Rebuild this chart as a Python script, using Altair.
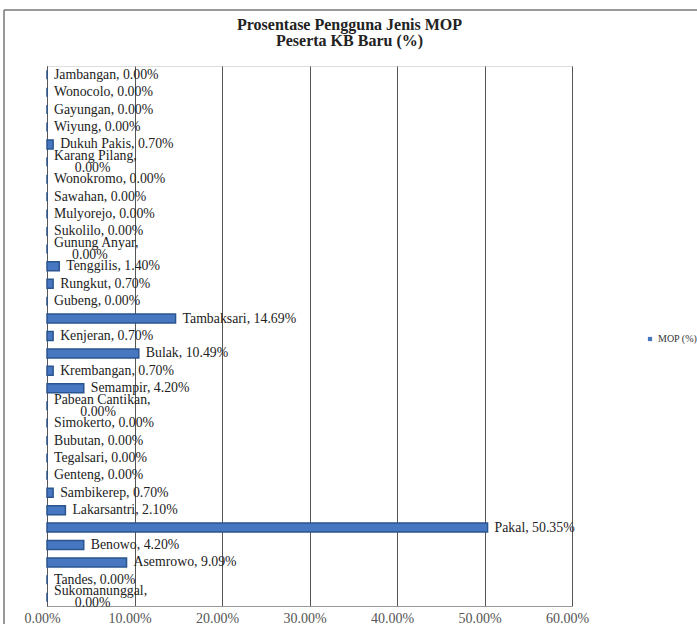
import altair as alt
import pandas as pd

categories = [
    "Jambangan", "Wonocolo", "Gayungan", "Wiyung", "Dukuh Pakis", "Karang Pilang",
    "Wonokromo", "Sawahan", "Mulyorejo", "Sukolilo", "Gunung Anyar", "Tenggilis",
    "Rungkut", "Gubeng", "Tambaksari", "Kenjeran", "Bulak", "Krembangan", "Semampir",
    "Pabean Cantikan", "Simokerto", "Bubutan", "Tegalsari", "Genteng", "Sambikerep",
    "Lakarsantri", "Pakal", "Benowo", "Asemrowo", "Tandes", "Sukomanunggal",
]
values = [
    0.00, 0.00, 0.00, 0.00, 0.70, 0.00,
    0.00, 0.00, 0.00, 0.00, 0.00, 1.40,
    0.70, 0.00, 14.69, 0.70, 10.49, 0.70, 4.20,
    0.00, 0.00, 0.00, 0.00, 0.00, 0.70,
    2.10, 50.35, 4.20, 9.09, 0.00, 0.00,
]
wrapped = ["Karang Pilang", "Gunung Anyar", "Pabean Cantikan", "Sukomanunggal"]
series_name = "MOP (%)"
x_ticks = [0, 10, 20, 30, 40, 50, 60]
title_lines = ["Prosentase Pengguna Jenis MOP", "Peserta KB Baru (%)"]

SERIF = "Liberation Serif"
FS = 13.8
DX = 7

df = pd.DataFrame({
    "category": categories,
    "value": values,
    "label": [f"{c}, {v:.2f}%" for c, v in zip(categories, values)],
    "line1": [f"{c}," for c in categories],
    "line2": [f"{v:.2f}%" for v in values],
    "wrapped": [c in wrapped for c in categories],
    "series": [series_name] * len(categories),
})

W, H = 525, 540

base = alt.Chart(df)

x_enc = alt.X(
    "value:Q",
    scale=alt.Scale(domain=[0, 60], nice=False, zero=True),
    axis=alt.Axis(
        values=x_ticks,
        labelExpr="format(datum.value, '.2f') + '%'",
        grid=True, gridColor="#555555", gridWidth=1,
        domainColor="#999", ticks=False, title=None,
        labelFont=SERIF, labelFontSize=14, labelColor="#555",
        labelPadding=5, labelFlush=False, labelOverlap=False, labelOffset=-5,
    ),
)
y_enc = alt.Y(
    "category:N", sort=categories,
    axis=alt.Axis(labels=False, ticks=False, title=None, domainColor="#555", grid=False),
)
y_plain = alt.Y("category:N", sort=categories)

bars = base.mark_bar(size=9, stroke="#2b558f", strokeWidth=1.5).encode(
    x=x_enc,
    y=y_enc,
    color=alt.Color(
        "series:N",
        scale=alt.Scale(range=["#4677c0"]),
        legend=alt.Legend(
            title=None, orient="none", legendX=598, legendY=268,
            symbolType="square", symbolSize=18, symbolStrokeWidth=0,
            labelOffset=3, labelLimit=0,
            labelFont=SERIF, labelFontSize=10, labelColor="#333",
        ),
    ),
)

text_style = dict(font=SERIF, fontSize=FS, color="#222", baseline="middle")

single = base.transform_filter("!datum.wrapped").mark_text(
    align="left", dx=DX, **text_style
).encode(x="value:Q", y=y_plain, text="label:N")

first_lines = base.transform_filter("datum.wrapped").mark_text(
    align="left", dx=DX, dy=-6, **text_style
).encode(x="value:Q", y=y_plain, text="line1:N")

second_lines = []
for c in wrapped:
    est_w = (len(c) + 1) * FS * 0.40
    second_lines.append(
        base.transform_filter(alt.datum.category == c).mark_text(
            align="center", dx=DX + est_w / 2, dy=6, **text_style
        ).encode(x="value:Q", y=y_plain, text="line2:N")
    )

frame_src = alt.Chart(pd.DataFrame({"k": [0]}))
top_border = frame_src.mark_rule(color="#777", strokeWidth=1.5).encode(
    x=alt.value(-43), x2=alt.value(660), y=alt.value(-56)
)
left_border = frame_src.mark_rule(color="#777", strokeWidth=1.5).encode(
    x=alt.value(-43), y=alt.value(-56), y2=alt.value(560)
)

chart = alt.layer(bars, single, first_lines, *second_lines, top_border, left_border).properties(
    width=W, height=H,
    title=alt.TitleParams(
        text=title_lines, font=SERIF, fontSize=16, fontWeight="bold",
        anchor="middle", dx=40, offset=-40, color="#222", lineHeight=16.5,
    ),
    autosize=alt.AutoSizeParams(type="none"),
    padding={"left": 47, "top": 66, "right": 125, "bottom": 18},
).configure_view(stroke=None).configure(background="white")

chart.save("out.html", embed_options={"renderer": "svg", "actions": False})
